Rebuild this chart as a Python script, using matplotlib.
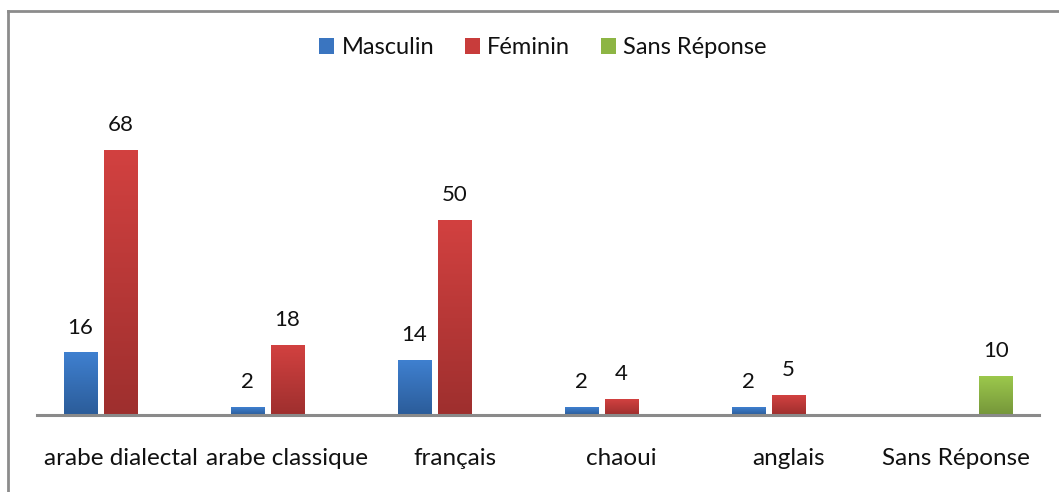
import matplotlib
matplotlib.use("Agg")
import matplotlib.pyplot as plt
import numpy as np
from matplotlib.colors import LinearSegmentedColormap
from matplotlib.lines import Line2D
from matplotlib.patches import Patch

plt.rcParams['font.family'] = ['Lato', 'DejaVu Sans']

categories = ["arabe dialectal", "arabe classique", "français", "chaoui", "anglais", "Sans Réponse"]
series_names = ["Masculin", "Féminin", "Sans Réponse"]
masculin = [16, 2, 14, 2, 2, None]
feminin = [68, 18, 50, 4, 5, None]
sans_reponse = [None, None, None, None, None, 10]
series_values = [masculin, feminin, sans_reponse]

top_colors = ["#3F80D0", "#D24140", "#9CC84C"]
bot_colors = ["#2B5C99", "#9E2F2E", "#75963A"]
legend_colors = ["#3A75C0", "#C83C3B", "#8DB544"]

W, H = 1059, 492
fig = plt.figure(figsize=(W / 100, H / 100), dpi=100)
ax_left, ax_right, ax_bottom, ax_top = 37, 1039, 415, 104
ax = fig.add_axes([ax_left / W, 1 - ax_bottom / H, (ax_right - ax_left) / W, (ax_bottom - ax_top) / H])

x = np.arange(len(categories))
offsets = [-0.24, 0.0, 0.24]
bw = 0.2
grad = np.linspace(0, 1, 256).reshape(-1, 1)

for vals, off, tc, bc in zip(series_values, offsets, top_colors, bot_colors):
    xs = [xi + off for xi, v in zip(x, vals) if v is not None]
    hs = [v for v in vals if v is not None]
    bars = ax.bar(xs, hs, width=bw, color="none", edgecolor="none", zorder=2)
    cmap = LinearSegmentedColormap.from_list("g", [bc, tc])
    for b, h in zip(bars, hs):
        x0 = b.get_x()
        ax.imshow(grad, extent=[x0, x0 + b.get_width(), 0, b.get_height()], origin="lower",
                  cmap=cmap, aspect="auto", zorder=2, interpolation="bilinear")
        ax.annotate(str(h), (x0 + b.get_width() / 2, h), xytext=(0, 11), textcoords="offset points",
                    ha="center", va="bottom", fontsize=16, color="#111111")

ax.set_xlim(-0.5, len(categories) - 0.5)
ax.set_ylim(0, 80)
ax.set_xticks(x)
ax.set_xticklabels(categories, fontsize=17.5, color="#111111")
ax.tick_params(axis="x", length=0, pad=24)
ax.set_yticks([])
for s in ["top", "right", "left"]:
    ax.spines[s].set_visible(False)
ax.spines["bottom"].set_color("#8A8A8A")
ax.spines["bottom"].set_linewidth(2.2)
ax.spines["bottom"].set_zorder(3)

handles = [Patch(facecolor=c, edgecolor="none") for c in legend_colors]
fig.legend(handles, series_names, loc="center", bbox_to_anchor=(543 / W, 1 - 48 / H), ncol=3,
           frameon=False, fontsize=17, handlelength=0.65, handleheight=0.65, handletextpad=0.3,
           columnspacing=1.3, labelcolor="#111111")

# outer chart frame (top and left edges visible)
fig.add_artist(Line2D([8 / W, 1.0], [1 - 11 / H, 1 - 11 / H], transform=fig.transFigure, color="#8C8C8C", lw=2))
fig.add_artist(Line2D([8 / W, 8 / W], [0.0, 1 - 11 / H], transform=fig.transFigure, color="#8C8C8C", lw=2))

fig.savefig("out.png", dpi=100)
